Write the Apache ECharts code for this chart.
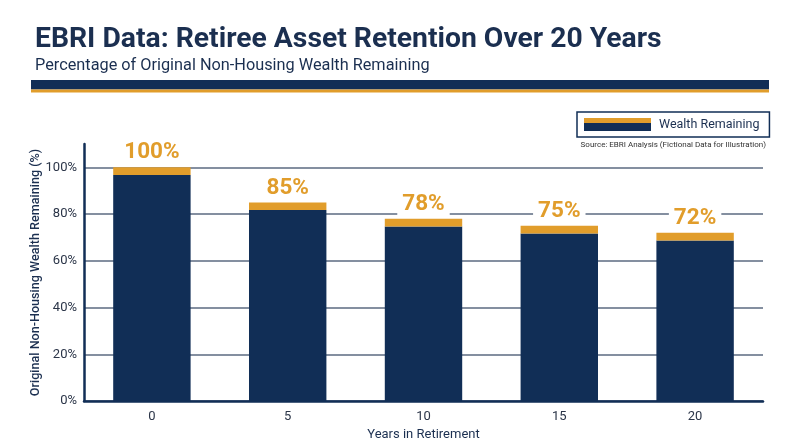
<!DOCTYPE html>
<html>
<head>
<meta charset="utf-8">
<script src="https://cdn.jsdelivr.net/npm/echarts@6/dist/echarts.min.js"></script>
<style>
html,body{margin:0;padding:0;background:#fff;}
#chart{width:800px;height:447px;}
</style>
</head>
<body>
<div id="chart"></div>
<script>
var categories = ['0', '5', '10', '15', '20'];
var wealthRemaining = [100, 85, 78, 75, 72];
var capSize = 3.3;
var yTicks = [0, 20, 40, 60, 80, 100];

var NAVY = '#112e56';
var GOLD = '#e19d2b';
var TEXT = '#1b2f50';

var baseData = wealthRemaining.map(function (v) { return v - capSize; });
var capData = wealthRemaining.map(function () { return capSize; });

var iconSvg = '<svg xmlns="http://www.w3.org/2000/svg" width="67" height="13"><rect x="0" y="0" width="67" height="5" fill="' + GOLD + '"/><rect x="0" y="5" width="67" height="8" fill="' + NAVY + '"/></svg>';
var iconUrl = 'image://data:image/svg+xml;charset=utf-8,' + encodeURIComponent(iconSvg);

var chart = echarts.init(document.getElementById('chart'), null, {renderer: 'canvas'});
chart.setOption({
  backgroundColor: '#ffffff',
  animation: false,
  title: [{
    text: 'EBRI Data: Retiree Asset Retention Over 20 Years',
    left: 30, top: 21,
    textStyle: {fontFamily: 'Roboto', fontSize: 28.3, fontWeight: 'bold', color: TEXT}
  }, {
    text: 'Percentage of Original Non-Housing Wealth Remaining',
    left: 30, top: 53,
    textStyle: {fontFamily: 'Roboto', fontSize: 16.3, fontWeight: 'normal', color: TEXT}
  }],
  graphic: [
    {type: 'rect', shape: {x: 31, y: 80, width: 738, height: 9.5}, style: {fill: NAVY}},
    {type: 'rect', shape: {x: 31, y: 89.5, width: 738, height: 3}, style: {fill: GOLD}},
    {type: 'text', right: 34, top: 141,
     style: {text: 'Source: EBRI Analysis (Fictional Data for Illustration)', fontFamily: 'Roboto', fontSize: 8, fill: '#333333'}}
  ],
  legend: {
    data: [{name: 'Wealth Remaining', icon: iconUrl}],
    left: 577, top: 112,
    padding: [6, 10, 6, 7],
    itemWidth: 67, itemHeight: 13, itemGap: 0,
    borderColor: NAVY, borderWidth: 1.5, borderRadius: 0,
    selectedMode: false,
    textStyle: {fontFamily: 'Roboto', fontSize: 12.5, color: TEXT, padding: [0, 0, 0, 3]}
  },
  grid: {left: 84, right: 37, top: 144, bottom: 46, containLabel: false},
  xAxis: {
    type: 'category',
    data: categories,
    name: 'Years in Retirement',
    nameLocation: 'middle',
    nameGap: 26,
    nameTextStyle: {fontFamily: 'Roboto', fontSize: 13, color: TEXT},
    axisLine: {lineStyle: {color: NAVY, width: 2.5}},
    axisTick: {show: false},
    axisLabel: {fontFamily: 'Roboto', fontSize: 13, color: '#2b3548', margin: 9}
  },
  yAxis: {
    type: 'value',
    min: 0, max: 110, interval: 20,
    name: 'Original Non-Housing Wealth Remaining (%)',
    nameLocation: 'middle',
    nameGap: 42,
    nameMoveOverlap: false,
    nameTextStyle: {fontFamily: 'Roboto', fontSize: 12.6, fontWeight: 500, color: TEXT},
    axisLine: {show: true, lineStyle: {color: NAVY, width: 2.5}},
    axisTick: {show: false},
    axisLabel: {
      fontFamily: 'Roboto', fontSize: 13, color: '#2b3548', margin: 7,
      formatter: function (v) { return yTicks.indexOf(v) >= 0 ? v + '%' : ''; }
    },
    splitLine: {show: true, lineStyle: {color: ['#5b6a80', '#5b6a80', '#5b6a80', '#5b6a80', '#5b6a80', '#5b6a80', 'rgba(0,0,0,0)'], width: 1.5}}
  },
  series: [{
    name: 'Wealth Remaining',
    type: 'bar',
    stack: 'w',
    data: baseData,
    barWidth: '57%',
    itemStyle: {color: NAVY},
    silent: true
  }, {
    name: 'cap',
    type: 'bar',
    stack: 'w',
    data: capData,
    barWidth: '57%',
    itemStyle: {color: GOLD},
    silent: true,
    label: {
      show: true,
      position: 'top',
      distance: 3,
      formatter: function (p) { return wealthRemaining[p.dataIndex] + '%'; },
      fontFamily: 'Roboto', fontSize: 22.5, fontWeight: 'bold', color: GOLD,
      backgroundColor: '#ffffff', padding: [1, 5, 0, 5]
    }
  }]
});
</script>
</body>
</html>
